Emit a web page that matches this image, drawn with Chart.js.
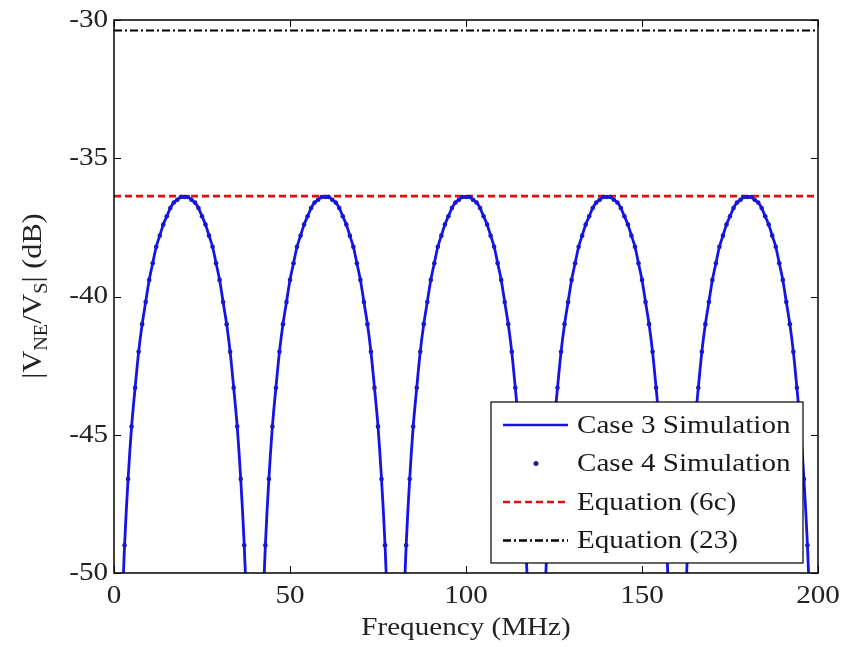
<!DOCTYPE html>
<html>
<head>
<meta charset="utf-8">
<title>Near-end crosstalk</title>
<script src="https://cdn.jsdelivr.net/npm/chart.js@4/dist/chart.umd.min.js"></script>
<style>
  html, body { margin: 0; padding: 0; background: #fff; }
  #wrap { width: 845px; height: 647px; }
</style>
</head>
<body>
<div id="wrap"><canvas id="chart"></canvas></div>
<script>
// Frequency grid (MHz), one sample per MHz
const freq = [];
for (let f = 0; f <= 200; f++) freq.push(f);

// |VNE/VS| in dB for the simulated cases (1 MHz steps)
const case3Db = [
  -68.0, -58.5, -52.5, -49.0, -46.6, -44.7, -43.3, -42.0, -41.0, -40.2,
  -39.4, -38.8, -38.2, -37.8, -37.4, -37.1, -36.8, -36.6, -36.5, -36.4,
  -36.4, -36.4, -36.5, -36.6, -36.8, -37.1, -37.4, -37.8, -38.2, -38.8,
  -39.4, -40.2, -41.0, -42.0, -43.3, -44.7, -46.6, -49.0, -52.5, -58.5,
  -68.0, -58.5, -52.5, -49.0, -46.6, -44.7, -43.3, -42.0, -41.0, -40.2,
  -39.4, -38.8, -38.2, -37.8, -37.4, -37.1, -36.8, -36.6, -36.5, -36.4,
  -36.4, -36.4, -36.5, -36.6, -36.8, -37.1, -37.4, -37.8, -38.2, -38.8,
  -39.4, -40.2, -41.0, -42.0, -43.3, -44.7, -46.6, -49.0, -52.5, -58.5,
  -68.0, -58.5, -52.5, -49.0, -46.6, -44.7, -43.3, -42.0, -41.0, -40.2,
  -39.4, -38.8, -38.2, -37.8, -37.4, -37.1, -36.8, -36.6, -36.5, -36.4,
  -36.4, -36.4, -36.5, -36.6, -36.8, -37.1, -37.4, -37.8, -38.2, -38.8,
  -39.4, -40.2, -41.0, -42.0, -43.3, -44.7, -46.6, -49.0, -52.5, -58.5,
  -68.0, -58.5, -52.5, -49.0, -46.6, -44.7, -43.3, -42.0, -41.0, -40.2,
  -39.4, -38.8, -38.2, -37.8, -37.4, -37.1, -36.8, -36.6, -36.5, -36.4,
  -36.4, -36.4, -36.5, -36.6, -36.8, -37.1, -37.4, -37.8, -38.2, -38.8,
  -39.4, -40.2, -41.0, -42.0, -43.3, -44.7, -46.6, -49.0, -52.5, -58.5,
  -68.0, -58.5, -52.5, -49.0, -46.6, -44.7, -43.3, -42.0, -41.0, -40.2,
  -39.4, -38.8, -38.2, -37.8, -37.4, -37.1, -36.8, -36.6, -36.5, -36.4,
  -36.4, -36.4, -36.5, -36.6, -36.8, -37.1, -37.4, -37.8, -38.2, -38.8,
  -39.4, -40.2, -41.0, -42.0, -43.3, -44.7, -46.6, -49.0, -52.5, -58.5,
  -68.0
];
// Case 4 lies on top of case 3
const case4Db = case3Db.slice();

// Closed-form levels
const eq6cDb = -36.37;
const eq23Db = -30.38;

const xTicks = [0, 50, 100, 150, 200];
const yTicks = [-50, -45, -40, -35, -30];

const legendItems = [
  { label: 'Case 3 Simulation', kind: 'line', color: '#1414e6', dash: [] },
  { label: 'Case 4 Simulation', kind: 'dot', color: '#1c1c8c' },
  { label: 'Equation (6c)', kind: 'line', color: '#e01010', dash: [7, 4] },
  { label: 'Equation (23)', kind: 'line', color: '#000', dash: [8, 3, 2, 3] }
];

const serif = '"Liberation Serif", "Times New Roman", serif';
const SX = 1.12; // text is a bit wide
const toPts = (xs, ys) => xs.map((x, i) => ({ x: x, y: ys[i] }));

function wideText(ctx, str, x, y, align, size) {
  ctx.save();
  ctx.translate(x, y);
  ctx.scale(SX, 1);
  ctx.font = size + 'px ' + serif;
  ctx.textAlign = align;
  ctx.textBaseline = 'middle';
  ctx.fillText(str, 0, 0);
  ctx.restore();
}

// box, inward ticks, tick labels, legend and axis titles
const framePlugin = {
  id: 'frame',
  afterDraw(chart) {
    const ctx = chart.ctx;
    const a = chart.chartArea;
    const xs = chart.scales.x, ys = chart.scales.y;
    ctx.save();
    ctx.strokeStyle = '#000';
    ctx.lineWidth = 1.5;
    ctx.strokeRect(a.left, a.top, a.right - a.left, a.bottom - a.top);
    ctx.lineWidth = 1;
    const tl = 7;
    ctx.beginPath();
    xTicks.forEach(v => {
      const px = Math.round(xs.getPixelForValue(v)) + 0.5;
      ctx.moveTo(px, a.bottom); ctx.lineTo(px, a.bottom - tl);
      ctx.moveTo(px, a.top); ctx.lineTo(px, a.top + tl);
    });
    yTicks.forEach(v => {
      const py = Math.round(ys.getPixelForValue(v)) + 0.5;
      ctx.moveTo(a.left, py); ctx.lineTo(a.left + tl, py);
      ctx.moveTo(a.right, py); ctx.lineTo(a.right - tl, py);
    });
    ctx.stroke();

    ctx.fillStyle = '#222';
    xTicks.forEach(v => wideText(ctx, String(v), xs.getPixelForValue(v), a.bottom + 23, 'center', 26));
    yTicks.forEach(v => wideText(ctx, String(v), a.left - 6, ys.getPixelForValue(v), 'right', 26));

    // legend
    const lx = 491, ly = 402, lw = 312, lh = 161;
    ctx.fillStyle = '#fff';
    ctx.fillRect(lx, ly, lw, lh);
    ctx.strokeStyle = '#000';
    ctx.lineWidth = 1.2;
    ctx.strokeRect(lx, ly, lw, lh);
    legendItems.forEach((it, i) => {
      const cy = 425 + i * 38.5;
      if (it.kind === 'dot') {
        ctx.fillStyle = it.color;
        ctx.beginPath();
        ctx.arc(536, cy, 2.5, 0, Math.PI * 2);
        ctx.fill();
      } else {
        ctx.strokeStyle = it.color;
        ctx.lineWidth = 2.5;
        ctx.setLineDash(it.dash);
        ctx.beginPath();
        ctx.moveTo(503, cy); ctx.lineTo(568, cy);
        ctx.stroke();
        ctx.setLineDash([]);
      }
      ctx.fillStyle = '#1a1a1a';
      wideText(ctx, it.label, 577, cy + 1, 'left', 26);
    });

    // x title
    ctx.fillStyle = '#222';
    wideText(ctx, 'Frequency (MHz)', (a.left + a.right) / 2, 628, 'center', 26);

    // y title with subscripts: |V_NE/V_S| (dB)
    ctx.translate(34, 296);
    ctx.rotate(-Math.PI / 2);
    ctx.scale(SX, 1);
    ctx.textBaseline = 'middle';
    const parts = [
      { t: '|V', sub: false }, { t: 'NE', sub: true },
      { t: '/V', sub: false }, { t: 'S', sub: true },
      { t: '| (dB)', sub: false }
    ];
    const big = '27px ' + serif, small = '18px ' + serif;
    let total = 0;
    parts.forEach(p => { ctx.font = p.sub ? small : big; total += ctx.measureText(p.t).width; });
    let x = -total / 2;
    ctx.textAlign = 'left';
    parts.forEach(p => {
      ctx.font = p.sub ? small : big;
      ctx.fillText(p.t, x, p.sub ? 8 : 0);
      x += ctx.measureText(p.t).width;
    });
    ctx.restore();
  }
};

new Chart(document.getElementById('chart'), {
  type: 'scatter',
  data: {
    datasets: [
      {
        label: 'Equation (23)',
        data: [{ x: 0, y: eq23Db }, { x: 200, y: eq23Db }],
        showLine: true, borderColor: '#000', borderWidth: 2,
        borderDash: [8, 3, 2, 3], pointRadius: 0
      },
      {
        label: 'Case 3 Simulation',
        data: toPts(freq, case3Db),
        showLine: true, borderColor: '#1414e6', borderWidth: 2.8,
        pointRadius: 0, tension: 0.3
      },
      {
        label: 'Case 4 Simulation',
        data: toPts(freq, case4Db),
        showLine: false, pointRadius: 2.3, pointBorderWidth: 0,
        pointBackgroundColor: '#1c1c8c'
      },
      {
        label: 'Equation (6c)',
        data: [{ x: 0, y: eq6cDb }, { x: 200, y: eq6cDb }],
        showLine: true, borderColor: '#e01010', borderWidth: 2.6,
        borderDash: [7, 4], pointRadius: 0
      }
    ]
  },
  options: {
    responsive: true,
    maintainAspectRatio: false,
    animation: false,
    clip: 0,
    layout: { padding: { top: 20, right: 27, left: 0, bottom: 0 } },
    plugins: { legend: { display: false }, tooltip: { enabled: false } },
    scales: {
      x: {
        type: 'linear', min: 0, max: 200,
        afterFit: s => { s.height = 74; },
        afterBuildTicks: s => { s.ticks = xTicks.map(v => ({ value: v })); },
        grid: { display: false, drawTicks: false },
        border: { display: false },
        ticks: { display: false }
      },
      y: {
        type: 'linear', min: -50, max: -30,
        afterFit: s => { s.width = 114; },
        afterBuildTicks: s => { s.ticks = yTicks.map(v => ({ value: v })); },
        grid: { display: false, drawTicks: false },
        border: { display: false },
        ticks: { display: false }
      }
    }
  },
  plugins: [framePlugin]
});
</script>
</body>
</html>
